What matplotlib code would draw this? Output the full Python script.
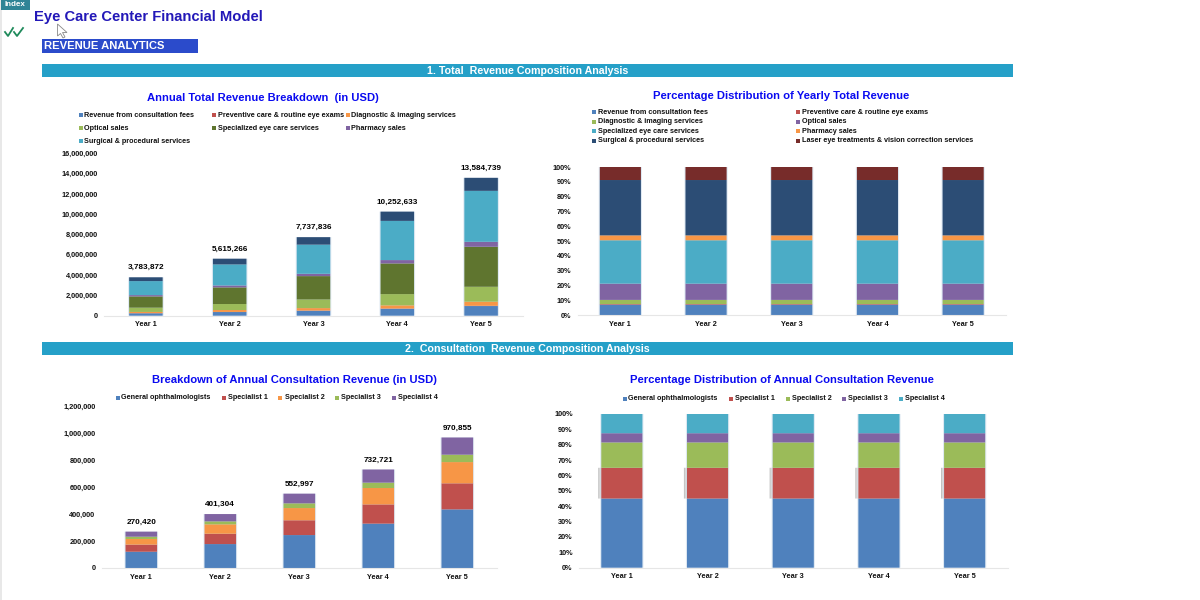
import matplotlib
matplotlib.use('Agg')
import matplotlib.pyplot as plt
from matplotlib.patches import Rectangle, Polygon
from matplotlib.ticker import FuncFormatter, PercentFormatter

plt.rcParams['font.family'] = ['Liberation Sans', 'DejaVu Sans']
plt.rcParams['font.weight'] = 'bold'

years = ['Year 1', 'Year 2', 'Year 3', 'Year 4', 'Year 5']

# chart 1 - total revenue (USD)
total_labels = ['Revenue from consultation fees', 'Preventive care & routine eye exams',
                'Diagnostic & imaging services', 'Optical sales',
                'Specialized eye care services', 'Pharmacy sales',
                'Surgical & procedural services']
consult_fees = [240000, 360000, 490000, 690000, 950000]
preventive = [8000, 10000, 14000, 18000, 25000]
diagnostic = [122000, 190000, 246000, 312000, 405000]
optical = [420000, 590000, 850000, 1110000, 1470000]
specialized = [1110000, 1640000, 2300000, 3020000, 3940000]
pharmacy = [130000, 190000, 230000, 330000, 490000]
surgical_teal = [1380000, 2070000, 2870000, 3860000, 5020000]
top_navy = [373872, 565266, 737836, 912633, 1284739]
total_revenue = [3783872, 5615266, 7737836, 10252633, 13584739]

# chart 2 - share of yearly revenue (%)
share_labels = ['Revenue from consultation fees', 'Preventive care & routine eye exams',
                'Diagnostic & imaging services', 'Optical sales',
                'Specialized eye care services', 'Pharmacy sales',
                'Surgical & procedural services',
                'Laser eye treatments & vision correction services']
share_consult = [7.0, 7.0, 7.0, 7.0, 7.0]
share_prevent = [0.4, 0.4, 0.4, 0.4, 0.4]
share_diag = [2.8, 2.8, 2.8, 2.8, 2.8]
share_optical = [11.0, 11.0, 11.0, 11.0, 11.0]
share_special = [29.3, 29.3, 29.3, 29.3, 29.3]
share_pharmacy = [3.3, 3.3, 3.3, 3.3, 3.3]
share_surgical = [37.4, 37.4, 37.4, 37.4, 37.4]
share_laser = [8.8, 8.8, 8.8, 8.8, 8.8]

# chart 3 - consultation revenue (USD)
doctor_labels = ['General ophthalmologists', 'Specialist 1', 'Specialist 2',
                 'Specialist 3', 'Specialist 4']
general = [121000, 178000, 245000, 330000, 436000]
spec1 = [53000, 77000, 110000, 143000, 194000]
spec2 = [42000, 70000, 91000, 122000, 158000]
spec3 = [17000, 22000, 35000, 40000, 55000]
spec4 = [37420, 54304, 71997, 97721, 127855]
total_consult = [270420, 401304, 552997, 732721, 970855]

# chart 4 - share of consultation revenue (%)
pct_general = [45.0, 45.0, 45.0, 45.0, 45.0]
pct_spec1 = [20.0, 20.0, 20.0, 20.0, 20.0]
pct_spec2 = [16.5, 16.5, 16.5, 16.5, 16.5]
pct_spec3 = [6.0, 6.0, 6.0, 6.0, 6.0]
pct_spec4 = [12.5, 12.5, 12.5, 12.5, 12.5]

BLUE, RED, ORANGE, GREEN = '#4f81bd', '#c0504d', '#f79646', '#9bbb59'
OLIVE, PURPLE, TEAL, NAVY, MAROON = '#5f752f', '#8064a2', '#4bacc6', '#2c4d75', '#772c2a'
TITLE_BLUE = '#0a0af0'

W, H = 1200, 600
fig = plt.figure(figsize=(12, 6), dpi=100, facecolor='white')

# page layer in pixel coords, for everything that lives on the sheet
page = fig.add_axes([0, 0, 1, 1])
page.set_xlim(0, W)
page.set_ylim(H, 0)
page.axis('off')


def chart_axes(left, right, top, bottom):
    return fig.add_axes([left / W, 1 - bottom / H, (right - left) / W, (bottom - top) / H],
                        facecolor='none')


def stacked(ax, series, colors, width, ymax, ticks, fmt, totals=None, gap=6):
    x = range(len(years))
    tops = [sum(s[i] for s in series) for i in x]
    ax.bar(x, tops, width=width + 0.025, color='#dfe9f3', zorder=1, snap=False)
    base = [0] * len(years)
    for vals, col in zip(series, colors):
        ax.bar(x, vals, width=width, bottom=base, color=col, zorder=2, snap=False)
        base = [b + v for b, v in zip(base, vals)]
    if totals is not None:
        for i, t in enumerate(totals):
            ax.annotate(f'{t:,}', (i, tops[i]), xytext=(0, gap), textcoords='offset pixels',
                        ha='center', va='bottom', fontsize=5.9, color='black')
    ax.set_xlim(-0.5, len(years) - 0.5)
    ax.set_ylim(0, ymax)
    ax.set_yticks(ticks)
    ax.yaxis.set_major_formatter(fmt)
    ax.set_xticks(list(x))
    ax.set_xticklabels(years)
    ax.tick_params(axis='both', length=0, labelsize=5.3, labelcolor='#111111')
    ax.tick_params(axis='y', pad=4.5)
    ax.tick_params(axis='x', pad=4)
    for s in ['top', 'left', 'right']:
        ax.spines[s].set_visible(False)
    ax.spines['bottom'].set_color('#e6e6e6')


def legend_at(labels, colors, marker_x, text_x, ys):
    for lab, col, mx, tx, y in zip(labels, colors, marker_x, text_x, ys):
        page.add_patch(Rectangle((mx - 2, y - 2), 4, 4, color=col, lw=0))
        page.text(tx, y, lab, fontsize=5.2, color='#111111', ha='left', va='center')


comma = FuncFormatter(lambda v, p: f'{int(v):,}')
pct = PercentFormatter(100, decimals=0)
pct_ticks = list(range(0, 101, 10))

ax1 = chart_axes(104, 523, 153.3, 315.7)
stacked(ax1, [consult_fees, preventive, diagnostic, optical, specialized, pharmacy,
              surgical_teal, top_navy],
        [BLUE, RED, ORANGE, GREEN, OLIVE, PURPLE, TEAL, NAVY], 0.4, 16000000,
        list(range(0, 16000001, 2000000)), comma, total_revenue)

ax2 = chart_axes(577.5, 1006, 167, 315)
stacked(ax2, [share_consult, share_prevent, share_diag, share_optical, share_special,
              share_pharmacy, share_surgical, share_laser],
        [BLUE, RED, GREEN, PURPLE, TEAL, ORANGE, NAVY, MAROON], 0.48, 100, pct_ticks, pct)

ax3 = chart_axes(101.8, 496.8, 406.7, 568)
stacked(ax3, [general, spec1, spec2, spec3, spec4],
        [BLUE, RED, ORANGE, GREEN, PURPLE], 0.4, 1200000,
        list(range(0, 1200001, 200000)), comma, total_consult)

ax4 = chart_axes(579, 1007.5, 414, 567.7)
stacked(ax4, [pct_general, pct_spec1, pct_spec2, pct_spec3, pct_spec4],
        [BLUE, RED, GREEN, PURPLE, TEAL], 0.48, 100, pct_ticks, pct)

# soft shadow left of the red segment in chart 4
for i in range(len(years)):
    for step, alpha in enumerate([0.35, 0.22, 0.1]):
        ax4.bar(i - 0.24 - 0.012 * (2.5 - step), pct_spec1[i], width=0.012, bottom=pct_general[i],
                color='#555555', alpha=alpha, lw=0, zorder=1.5, snap=False)

# sheet furniture
page.add_patch(Rectangle((0, 0), 2, H, color='#e8e8e8', lw=0))
page.add_patch(Rectangle((1, 0), 29, 10, color='#2f8496', lw=0))
page.text(15, 4.8, 'Index', fontsize=5.8, color='white', ha='center', va='center')
page.text(33.5, 16.8, 'Eye Care Center Financial Model', fontsize=10.6, color='#2318b8',
          ha='left', va='center')
page.add_patch(Rectangle((42, 38.5), 156, 14, color='#2b4bcb', lw=0))
page.text(44.5, 46.3, 'REVENUE ANALYTICS', fontsize=8.1, color='white', ha='left', va='center')
page.plot([5, 8, 13], [32, 36, 28], color='#1f8a5b', lw=1.3)
page.plot([14, 17, 23], [32, 36, 28], color='#1f8a5b', lw=1.3)
page.add_patch(Polygon([(57.5, 24), (57.5, 36), (60.5, 33.5), (63, 38), (65, 37), (62.5, 32.5),
                        (67, 32.5)], closed=True, fc='white', ec='#888888', lw=0.6))

for y0, y1, txt in [(64, 76.5, '1. Total  Revenue Composition Analysis'),
                    (342, 355, '2.  Consultation  Revenue Composition Analysis')]:
    page.add_patch(Rectangle((42, y0), 971, y1 - y0, color='#25a0c8', lw=0))
    page.text(527.5, (y0 + y1) / 2 + 0.3, txt, fontsize=7.7, color='white', ha='center', va='center')

# chart titles
page.text(262.7, 97.6, 'Annual Total Revenue Breakdown  (in USD)', fontsize=8.15,
          color=TITLE_BLUE, ha='center', va='center')
page.text(781, 96.3, 'Percentage Distribution of Yearly Total Revenue', fontsize=8.15,
          color=TITLE_BLUE, ha='center', va='center')
page.text(294, 379.8, 'Breakdown of Annual Consultation Revenue (in USD)', fontsize=8.15,
          color=TITLE_BLUE, ha='center', va='center')
page.text(782, 380, 'Percentage Distribution of Annual Consultation Revenue', fontsize=8.15,
          color=TITLE_BLUE, ha='center', va='center')

# legends
legend_at(total_labels, [BLUE, RED, ORANGE, GREEN, OLIVE, PURPLE, TEAL],
          [81, 214, 347.5, 81, 214, 347.5, 81], [84.5, 218, 351, 84.5, 218, 351, 84.5],
          [115.3, 115.3, 115.3, 128.3, 128.3, 128.3, 141.3])
legend_at(share_labels, [BLUE, RED, GREEN, PURPLE, TEAL, ORANGE, NAVY, MAROON],
          [594, 798] * 4, [597.7, 801.7] * 4,
          [112.3, 112.3, 121.7, 121.7, 131.3, 131.3, 140.7, 140.7])
legend_at(doctor_labels, [BLUE, RED, ORANGE, GREEN, PURPLE],
          [118, 223.7, 280.3, 337, 394.3], [121.3, 227.7, 284.7, 341.3, 398.3], [397.7] * 5)
legend_at(doctor_labels, [BLUE, RED, GREEN, PURPLE, TEAL],
          [624.7, 731, 787.7, 844, 900.7], [628, 735, 791.7, 848.3, 905], [398.7] * 5)

fig.savefig('out.png', dpi=100)
